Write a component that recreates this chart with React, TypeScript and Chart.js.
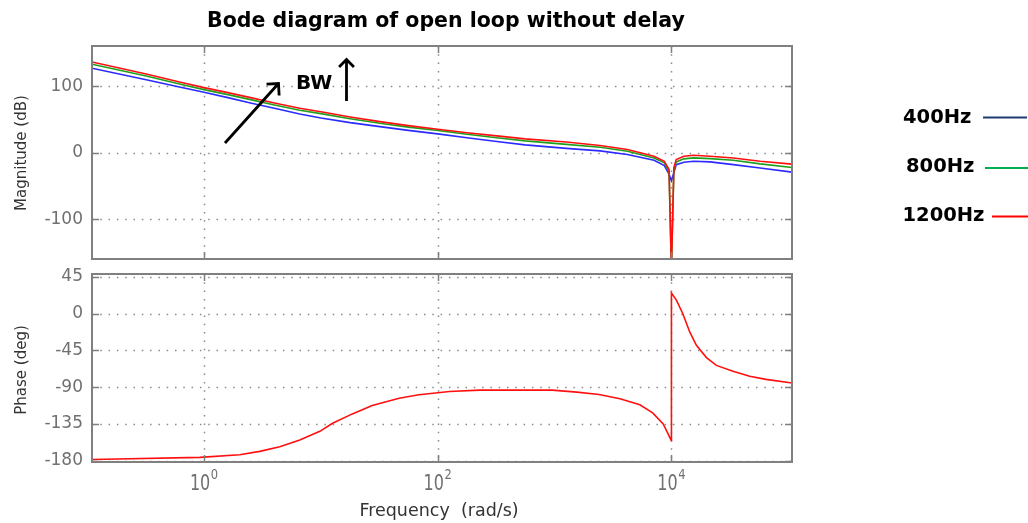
import React, { useEffect, useRef } from 'react';
import { Chart, registerables } from 'chart.js';

Chart.register(...registerables);

// ---- data ----
const seriesLabels = ['400Hz', '800Hz', '1200Hz'];

const magFreq = [0.11, 0.32, 0.63, 1, 1.6, 2.5, 4, 6.6, 10, 17.8, 32, 56, 100, 178, 320, 560, 1260, 2450, 4200, 7100, 8700, 9550, 10000, 10500, 11000, 12800, 15500, 21400, 33900, 57500, 107700];
const mag400 = [127.1, 110, 98.5, 91, 83, 75, 67, 58.5, 52.5, 45.5, 39.4, 33.8, 28.6, 22.6, 17, 12, 6.8, 3, -2.5, -11, -19, -32, -42, -30, -17.7, -14, -12.7, -13.6, -17.7, -22.7, -29];
const mag800 = [133.1, 115.5, 103, 95, 87.5, 80, 72, 64.1, 59, 51.4, 44.4, 38.7, 33.5, 28, 22.8, 18, 12.7, 8.5, 2.5, -7.6, -15, -28, -175, -25, -13.6, -9, -7.6, -8.6, -11.1, -16.6, -22];
const mag1200 = [136.6, 118.5, 106, 98, 90.5, 83, 75, 67, 61.7, 54, 47, 41, 35.6, 30.3, 25.5, 21, 16.3, 11, 5, -5, -12.6, -25, -175, -22, -10, -5, -3.6, -5, -7.6, -12.6, -17];

const phaseFreq = [0.11, 0.92, 2.02, 3.0, 4.45, 6.6, 9.8, 12.6, 18.6, 27.5, 46.8, 69, 105, 126, 229, 955, 1550, 2400, 3630, 5370, 6920, 8510, 10000, 10010, 11040, 12500, 14350, 16370, 19950, 24270, 33650, 46770, 64570, 107700];
const phase1200 = [-178.5, -175.9, -172.6, -168.5, -162.8, -154.6, -144, -134.2, -122.7, -112.5, -103.5, -99.3, -96.5, -95.3, -93.7, -93.7, -96.1, -98.9, -104.2, -111.6, -121.4, -134.9, -155.4, 25, 16.4, 0, -22.5, -38.8, -53.9, -63.4, -70.7, -76.8, -80.5, -85];

const magTicks = [-100, 0, 100];
const phaseTicks = [-180, -135, -90, -45, 0, 45];
const freqTicks = [1, 100, 10000];
const freqTickExp = ['0', '2', '4'];

const FREQ_MIN = 0.11;
const FREQ_MAX = 107700;

const FONT = "'DejaVu Sans', sans-serif";
const plotColors = ['#2b2bff', '#1ea01e', '#ff1010'];
const legendColors = ['#1f3a70', '#00b050', '#ff0000'];

function frame(yTicks: number[], drawText: (chart: any) => void) {
  return {
    id: 'frame',
    beforeDatasetsDraw(chart: any) {
      const { ctx, chartArea: a } = chart;
      const xs = chart.scales.x;
      const ys = chart.scales.y;
      ctx.save();
      ctx.strokeStyle = '#8a8a8a';
      ctx.lineWidth = 1.5;
      ctx.setLineDash([1.5, 6.8]);
      for (const f of freqTicks) {
        const px = Math.round(xs.getPixelForValue(f)) + 0.5;
        ctx.beginPath();
        ctx.moveTo(px, a.top);
        ctx.lineTo(px, a.bottom);
        ctx.stroke();
      }
      for (const v of yTicks) {
        const py = Math.round(ys.getPixelForValue(v)) + 0.5;
        ctx.beginPath();
        ctx.moveTo(a.left, py);
        ctx.lineTo(a.right, py);
        ctx.stroke();
      }
      ctx.restore();
    },
    afterDatasetsDraw(chart: any) {
      const { ctx, chartArea: a } = chart;
      const xs = chart.scales.x;
      const ys = chart.scales.y;
      ctx.save();
      ctx.strokeStyle = '#808080';
      ctx.lineWidth = 1.5;
      ctx.setLineDash([]);
      const tl = 7;
      ctx.beginPath();
      for (const f of freqTicks) {
        const px = Math.round(xs.getPixelForValue(f)) + 0.5;
        ctx.moveTo(px, a.bottom);
        ctx.lineTo(px, a.bottom - tl);
        ctx.moveTo(px, a.top);
        ctx.lineTo(px, a.top + tl);
      }
      for (const v of yTicks) {
        const py = Math.round(ys.getPixelForValue(v)) + 0.5;
        ctx.moveTo(a.left, py);
        ctx.lineTo(a.left + tl, py);
        ctx.moveTo(a.right, py);
        ctx.lineTo(a.right - tl, py);
      }
      ctx.stroke();
      ctx.lineWidth = 2;
      ctx.strokeRect(a.left, a.top, a.right - a.left, a.bottom - a.top);
      ctx.restore();
    },
    afterDraw(chart: any) {
      drawText(chart);
    },
  };
}

function arrow(ctx: CanvasRenderingContext2D, x1: number, y1: number, x2: number, y2: number, head: number) {
  const ang = Math.atan2(y2 - y1, x2 - x1);
  ctx.beginPath();
  ctx.moveTo(x1, y1);
  ctx.lineTo(x2, y2);
  ctx.moveTo(x2 - head * Math.cos(ang - Math.PI / 4), y2 - head * Math.sin(ang - Math.PI / 4));
  ctx.lineTo(x2, y2);
  ctx.lineTo(x2 - head * Math.cos(ang + Math.PI / 4), y2 - head * Math.sin(ang + Math.PI / 4));
  ctx.stroke();
}

function drawTopText(chart: any) {
  const { ctx } = chart;
  ctx.save();
  // title
  ctx.fillStyle = '#000';
  ctx.font = `bold 20.5px ${FONT}`;
  ctx.textAlign = 'center';
  ctx.textBaseline = 'alphabetic';
  ctx.fillText('Bode diagram of open loop without delay', 446, 27);

  // y title
  ctx.save();
  ctx.translate(26, 153);
  ctx.rotate(-Math.PI / 2);
  ctx.fillStyle = '#333';
  ctx.font = `15px ${FONT}`;
  ctx.textAlign = 'center';
  ctx.fillText('Magnitude (dB)', 0, 0);
  ctx.restore();

  // legend
  const legendPos = [
    { x: 903, y: 122.5, lx1: 983, lx2: 1027, ly: 117.5 },
    { x: 906, y: 171.5, lx1: 985, lx2: 1028, ly: 168 },
    { x: 902.5, y: 220.5, lx1: 992, lx2: 1028, ly: 216.5 },
  ];
  ctx.textAlign = 'left';
  ctx.font = `bold 19.5px ${FONT}`;
  legendPos.forEach((p, i) => {
    ctx.fillStyle = '#000';
    ctx.fillText(seriesLabels[i], p.x, p.y);
    ctx.strokeStyle = legendColors[i];
    ctx.lineWidth = 2;
    ctx.beginPath();
    ctx.moveTo(p.lx1, p.ly);
    ctx.lineTo(p.lx2, p.ly);
    ctx.stroke();
  });

  // BW annotation
  ctx.strokeStyle = '#000';
  ctx.lineWidth = 2.8;
  ctx.lineCap = 'butt';
  arrow(ctx, 225, 143, 278.5, 83.5, 12);
  arrow(ctx, 346.5, 101, 346.5, 59.5, 10.5);
  ctx.fillStyle = '#000';
  ctx.font = `bold 20px ${FONT}`;
  ctx.fillText('BW', 296, 88.5);
  ctx.restore();
}

function drawBottomText(chart: any) {
  const { ctx } = chart;
  const xs = chart.scales.x;
  ctx.save();
  // y title
  ctx.save();
  ctx.translate(26, 370);
  ctx.rotate(-Math.PI / 2);
  ctx.fillStyle = '#333';
  ctx.font = `15px ${FONT}`;
  ctx.textAlign = 'center';
  ctx.fillText('Phase (deg)', 0, 0);
  ctx.restore();

  // x tick labels 10^n
  ctx.fillStyle = '#707070';
  ctx.textAlign = 'left';
  freqTicks.forEach((f, i) => {
    const px = xs.getPixelForValue(f);
    ctx.font = `16px ${FONT}`;
    const w10 = ctx.measureText('10').width;
    ctx.font = `11.5px ${FONT}`;
    const wE = ctx.measureText(freqTickExp[i]).width;
    const x0 = px - (w10 + wE + 0.5) / 2;
    ctx.save();
    ctx.translate(x0, 490);
    ctx.scale(1, 1.3);
    ctx.font = `16px ${FONT}`;
    ctx.fillText('10', 0, 0);
    ctx.restore();
    ctx.save();
    ctx.translate(x0 + w10 + 0.5, 478.5);
    ctx.scale(1, 1.3);
    ctx.font = `11.5px ${FONT}`;
    ctx.fillText(freqTickExp[i], 0, 0);
    ctx.restore();
  });

  // x title
  ctx.fillStyle = '#333';
  ctx.font = `17.5px ${FONT}`;
  ctx.textAlign = 'center';
  ctx.fillText('Frequency  (rad/s)', 439, 516);
  ctx.restore();
}

function makeOptions(yMin: number, yMax: number, yTicks: number[], padTop: number, padBottom: number) {
  return {
    responsive: false,
    maintainAspectRatio: false,
    devicePixelRatio: 1,
    animation: false as const,
    events: [] as any[],
    layout: { padding: { left: 12, right: 236, top: padTop, bottom: padBottom } },
    plugins: { legend: { display: false }, tooltip: { enabled: false }, title: { display: false } },
    elements: { point: { radius: 0 }, line: { tension: 0 } },
    scales: {
      x: {
        type: 'logarithmic' as const,
        display: false,
        min: FREQ_MIN,
        max: FREQ_MAX,
      },
      y: {
        type: 'linear' as const,
        min: yMin,
        max: yMax,
        grid: { display: false, drawTicks: false },
        border: { display: false },
        afterBuildTicks: (scale: any) => {
          scale.ticks = yTicks.map((v) => ({ value: v }));
        },
        afterFit: (scale: any) => {
          scale.width = 80;
        },
        ticks: {
          autoSkip: false,
          padding: 9,
          color: '#707070',
          font: { family: FONT, size: 17 },
          callback: (v: any) => String(v),
        },
      },
    },
  };
}

export default function App() {
  const topRef = useRef<HTMLCanvasElement>(null);
  const botRef = useRef<HTMLCanvasElement>(null);

  useEffect(() => {
    const magSeries = [mag400, mag800, mag1200];
    const top = new Chart(topRef.current as HTMLCanvasElement, {
      type: 'line',
      data: {
        datasets: magSeries.map((s, i) => ({
          label: seriesLabels[i],
          data: magFreq.map((f, k) => ({ x: f, y: s[k] })),
          borderColor: plotColors[i],
          borderWidth: 1.6,
          pointRadius: 0,
          fill: false,
          order: magSeries.length - 1 - i,
        })),
      },
      options: makeOptions(-159.5, 160.6, magTicks, 46, 264) as any,
      plugins: [frame(magTicks, drawTopText)],
    });

    const bot = new Chart(botRef.current as HTMLCanvasElement, {
      type: 'line',
      data: {
        datasets: [
          {
            label: seriesLabels[2],
            data: phaseFreq.map((f, k) => ({ x: f, y: phase1200[k] })),
            borderColor: plotColors[2],
            borderWidth: 1.6,
            pointRadius: 0,
            fill: false,
          },
        ],
      },
      options: makeOptions(-181.5, 48.3, phaseTicks, 274, 61) as any,
      plugins: [frame(phaseTicks, drawBottomText)],
    });

    return () => {
      top.destroy();
      bot.destroy();
    };
  }, []);

  return (
    <div style={{ position: 'fixed', left: 0, top: 0, width: 1028, height: 523, background: '#fff', overflow: 'hidden' }}>
      <canvas ref={topRef} width={1028} height={523} style={{ position: 'absolute', left: 0, top: 0 }} />
      <canvas ref={botRef} width={1028} height={523} style={{ position: 'absolute', left: 0, top: 0 }} />
    </div>
  );
}
